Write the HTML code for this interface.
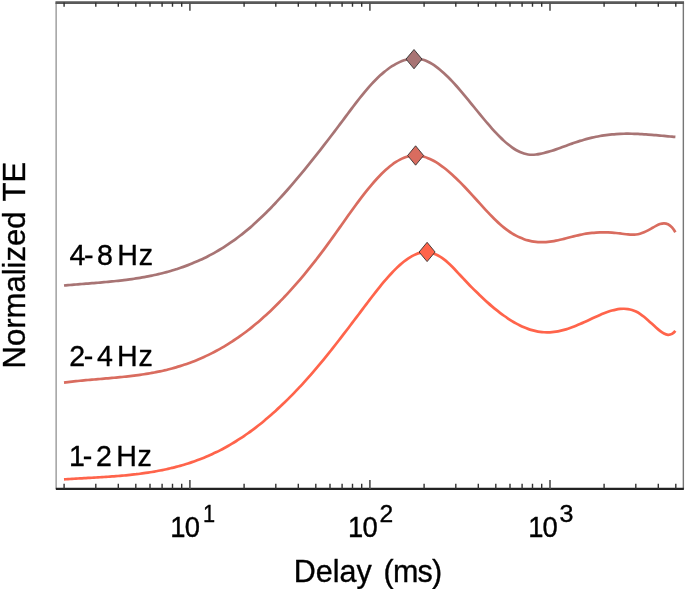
<!DOCTYPE html>
<html><head><meta charset="utf-8"><title>Normalized TE vs Delay</title>
<style>
html,body{margin:0;padding:0;background:#fff;}
svg{display:block;filter:blur(0.35px);}
text{font-family:"Liberation Sans",Arial,Helvetica,sans-serif;fill:#000;}
</style></head><body>
<svg width="685" height="589" viewBox="0 0 685 589">
<rect width="685" height="589" fill="#fff"/>
<!-- axes box -->
<path d="M56.15 2.6 V488.9" stroke="#a6a6a6" stroke-width="1.6" fill="none"/>
<path d="M683.35 2.6 V488.9" stroke="#767676" stroke-width="1.4" fill="none"/>
<path d="M55.45 2.6 H684.05" stroke="#595959" stroke-width="2.8" fill="none"/>
<path d="M55.85 488.9 H683.85" stroke="#222" stroke-width="2.1" fill="none"/>
<!-- ticks -->
<path d="M64.1 488.9 V483.8M95.8 488.9 V483.8M118.3 488.9 V483.8M135.8 488.9 V483.8M150.0 488.9 V483.8M162.1 488.9 V483.8M172.5 488.9 V483.8M181.7 488.9 V483.8M244.1 488.9 V483.8M275.8 488.9 V483.8M298.3 488.9 V483.8M315.8 488.9 V483.8M330.0 488.9 V483.8M342.1 488.9 V483.8M352.5 488.9 V483.8M361.7 488.9 V483.8M424.1 488.9 V483.8M455.8 488.9 V483.8M478.3 488.9 V483.8M495.8 488.9 V483.8M510.0 488.9 V483.8M522.1 488.9 V483.8M532.5 488.9 V483.8M541.7 488.9 V483.8M604.1 488.9 V483.8M635.8 488.9 V483.8M658.3 488.9 V483.8M675.8 488.9 V483.8" stroke="#303030" stroke-width="1.4" fill="none"/>
<path d="M189.9 488.9 V479.9M369.9 488.9 V479.9M550.0 488.9 V479.9" stroke="#505050" stroke-width="1.6" fill="none"/>
<path d="M64.1 2.6 V6.8M95.8 2.6 V6.8M118.3 2.6 V6.8M135.8 2.6 V6.8M150.0 2.6 V6.8M162.1 2.6 V6.8M172.5 2.6 V6.8M181.7 2.6 V6.8M244.1 2.6 V6.8M275.8 2.6 V6.8M298.3 2.6 V6.8M315.8 2.6 V6.8M330.0 2.6 V6.8M342.1 2.6 V6.8M352.5 2.6 V6.8M361.7 2.6 V6.8M424.1 2.6 V6.8M455.8 2.6 V6.8M478.3 2.6 V6.8M495.8 2.6 V6.8M510.0 2.6 V6.8M522.1 2.6 V6.8M532.5 2.6 V6.8M541.7 2.6 V6.8M604.1 2.6 V6.8M635.8 2.6 V6.8M658.3 2.6 V6.8M675.8 2.6 V6.8" stroke="#303030" stroke-width="1.4" fill="none"/>
<path d="M189.9 2.6 V10.7M369.9 2.6 V10.7M550.0 2.6 V10.7" stroke="#505050" stroke-width="1.6" fill="none"/>
<!-- curves -->
<path d="M64.00 285.51C65.33 285.39 66.67 285.27 68.00 285.16C69.33 285.04 70.67 284.93 72.00 284.82C73.33 284.71 74.67 284.60 76.00 284.49C77.33 284.38 78.67 284.28 80.00 284.17C81.33 284.06 82.67 283.96 84.00 283.85C85.33 283.75 86.67 283.64 88.00 283.54C89.33 283.43 90.67 283.33 92.00 283.22C93.33 283.11 94.67 283.00 96.00 282.89C97.33 282.78 98.67 282.67 100.00 282.56C101.33 282.44 102.67 282.33 104.00 282.21C105.33 282.09 106.67 281.96 108.00 281.84C109.33 281.71 110.67 281.58 112.00 281.45C113.33 281.31 114.67 281.18 116.00 281.03C117.33 280.89 118.67 280.74 120.00 280.59C121.33 280.44 122.67 280.28 124.00 280.11C125.33 279.95 126.67 279.78 128.00 279.60C129.33 279.43 130.67 279.24 132.00 279.05C133.33 278.86 134.67 278.66 136.00 278.46C137.33 278.25 138.67 278.04 140.00 277.82C141.33 277.59 142.67 277.36 144.00 277.12C145.33 276.88 146.67 276.64 148.00 276.38C149.33 276.12 150.67 275.85 152.00 275.57C153.33 275.29 154.67 275.01 156.00 274.71C157.33 274.41 158.67 274.10 160.00 273.78C161.33 273.45 162.67 273.12 164.00 272.78C165.33 272.43 166.67 272.07 168.00 271.70C169.33 271.33 170.67 270.95 172.00 270.56C173.33 270.16 174.67 269.75 176.00 269.33C177.33 268.90 178.67 268.47 180.00 268.02C181.33 267.56 182.67 267.10 184.00 266.62C185.33 266.14 186.67 265.64 188.00 265.13C189.33 264.62 190.67 264.09 192.00 263.54C193.33 263.00 194.67 262.44 196.00 261.86C197.33 261.29 198.67 260.69 200.00 260.08C201.33 259.47 202.67 258.84 204.00 258.19C205.33 257.54 206.67 256.88 208.00 256.19C209.33 255.51 210.67 254.80 212.00 254.08C213.33 253.36 214.67 252.61 216.00 251.85C217.33 251.09 218.67 250.30 220.00 249.50C221.33 248.70 222.67 247.87 224.00 247.03C225.33 246.18 226.67 245.31 228.00 244.42C229.33 243.53 230.67 242.62 232.00 241.69C233.33 240.75 234.67 239.80 236.00 238.82C237.33 237.84 238.67 236.83 240.00 235.80C241.33 234.78 242.67 233.72 244.00 232.65C245.33 231.57 246.67 230.47 248.00 229.35C249.33 228.22 250.67 227.07 252.00 225.90C253.33 224.73 254.67 223.53 256.00 222.31C257.33 221.10 258.67 219.86 260.00 218.59C261.33 217.33 262.67 216.05 264.00 214.75C265.33 213.44 266.67 212.12 268.00 210.78C269.33 209.43 270.67 208.07 272.00 206.69C273.33 205.30 274.67 203.90 276.00 202.48C277.33 201.06 278.67 199.63 280.00 198.17C281.33 196.72 282.67 195.25 284.00 193.76C285.33 192.27 286.67 190.77 288.00 189.25C289.33 187.73 290.67 186.20 292.00 184.65C293.33 183.10 294.67 181.54 296.00 179.97C297.33 178.39 298.67 176.80 300.00 175.20C301.33 173.60 302.67 171.98 304.00 170.35C305.33 168.73 306.67 167.09 308.00 165.44C309.33 163.79 310.67 162.13 312.00 160.46C313.33 158.79 314.67 157.11 316.00 155.42C317.33 153.73 318.67 152.03 320.00 150.32C321.33 148.61 322.67 146.90 324.00 145.17C325.33 143.45 326.67 141.72 328.00 139.98C329.33 138.24 330.67 136.50 332.00 134.74C333.33 132.99 334.67 131.23 336.00 129.47C337.33 127.71 338.67 125.94 340.00 124.17C341.33 122.40 342.67 120.62 344.00 118.84C345.33 117.06 346.67 115.27 348.00 113.49C349.33 111.71 350.67 109.93 352.00 108.16C353.33 106.40 354.67 104.64 356.00 102.90C357.33 101.17 358.67 99.45 360.00 97.77C361.33 96.08 362.67 94.42 364.00 92.80C365.33 91.18 366.67 89.60 368.00 88.06C369.33 86.52 370.67 85.03 372.00 83.60C373.33 82.16 374.67 80.77 376.00 79.44C377.33 78.11 378.67 76.83 380.00 75.61C381.33 74.39 382.67 73.22 384.00 72.12C385.33 71.01 386.67 69.97 388.00 68.98C389.33 68.00 390.67 67.08 392.00 66.22C393.33 65.36 394.67 64.57 396.00 63.84C397.33 63.12 398.67 62.46 400.00 61.87C401.33 61.28 402.67 60.76 404.00 60.31C405.33 59.87 406.67 59.49 408.00 59.20C409.33 58.91 410.67 58.70 412.00 58.58C413.33 58.45 414.67 58.42 416.00 58.49C417.33 58.56 418.67 58.72 420.00 58.99C421.33 59.26 422.67 59.63 424.00 60.09C425.33 60.56 426.67 61.12 428.00 61.76C429.33 62.41 430.67 63.14 432.00 63.95C433.33 64.77 434.67 65.66 436.00 66.62C437.33 67.58 438.67 68.62 440.00 69.72C441.33 70.81 442.67 71.98 444.00 73.20C445.33 74.42 446.67 75.69 448.00 77.02C449.33 78.34 450.67 79.72 452.00 81.13C453.33 82.55 454.67 84.01 456.00 85.50C457.33 86.99 458.67 88.52 460.00 90.07C461.33 91.62 462.67 93.20 464.00 94.80C465.33 96.40 466.67 98.01 468.00 99.64C469.33 101.27 470.67 102.91 472.00 104.55C473.33 106.20 474.67 107.84 476.00 109.49C477.33 111.13 478.67 112.77 480.00 114.40C481.33 116.03 482.67 117.65 484.00 119.25C485.33 120.85 486.67 122.43 488.00 123.99C489.33 125.54 490.67 127.07 492.00 128.57C493.33 130.06 494.67 131.52 496.00 132.94C497.33 134.36 498.67 135.74 500.00 137.06C501.33 138.39 502.67 139.66 504.00 140.88C505.33 142.09 506.67 143.24 508.00 144.33C509.33 145.42 510.67 146.44 512.00 147.38C513.33 148.32 514.67 149.19 516.00 149.97C517.33 150.75 518.67 151.44 520.00 152.05C521.33 152.65 522.67 153.16 524.00 153.57C525.33 153.97 526.67 154.28 528.00 154.47C529.33 154.67 530.67 154.75 532.00 154.75C533.33 154.75 534.67 154.66 536.00 154.50C537.33 154.34 538.67 154.12 540.00 153.86C541.33 153.60 542.67 153.29 544.00 152.96C545.33 152.63 546.67 152.27 548.00 151.89C549.33 151.51 550.67 151.11 552.00 150.68C553.33 150.26 554.67 149.82 556.00 149.36C557.33 148.91 558.67 148.44 560.00 147.97C561.33 147.49 562.67 147.01 564.00 146.52C565.33 146.04 566.67 145.55 568.00 145.06C569.33 144.58 570.67 144.10 572.00 143.62C573.33 143.15 574.67 142.68 576.00 142.23C577.33 141.77 578.67 141.33 580.00 140.91C581.33 140.49 582.67 140.09 584.00 139.70C585.33 139.32 586.67 138.95 588.00 138.60C589.33 138.25 590.67 137.92 592.00 137.61C593.33 137.30 594.67 137.01 596.00 136.74C597.33 136.46 598.67 136.21 600.00 135.97C601.33 135.74 602.67 135.52 604.00 135.32C605.33 135.13 606.67 134.95 608.00 134.79C609.33 134.63 610.67 134.49 612.00 134.37C613.33 134.25 614.67 134.14 616.00 134.06C617.33 133.97 618.67 133.90 620.00 133.85C621.33 133.80 622.67 133.76 624.00 133.74C625.33 133.72 626.67 133.71 628.00 133.71C629.33 133.72 630.67 133.73 632.00 133.76C633.33 133.79 634.67 133.83 636.00 133.88C637.33 133.93 638.67 133.99 640.00 134.06C641.33 134.13 642.67 134.21 644.00 134.29C645.33 134.38 646.67 134.47 648.00 134.57C649.33 134.66 650.67 134.77 652.00 134.88C653.33 134.98 654.67 135.10 656.00 135.21C657.33 135.33 658.67 135.44 660.00 135.56C661.33 135.68 662.67 135.81 664.00 135.93C665.33 136.05 666.67 136.17 668.00 136.29C669.33 136.41 670.67 136.53 672.00 136.65C673.13 136.75 674.27 136.84 675.40 136.94" stroke="#a87474" stroke-width="2.7" fill="none" stroke-linecap="butt"/>
<path d="M64.00 382.58C65.33 382.40 66.67 382.24 68.00 382.07C69.33 381.91 70.67 381.76 72.00 381.61C73.33 381.46 74.67 381.31 76.00 381.17C77.33 381.03 78.67 380.89 80.00 380.76C81.33 380.63 82.67 380.50 84.00 380.38C85.33 380.25 86.67 380.13 88.00 380.01C89.33 379.89 90.67 379.77 92.00 379.66C93.33 379.54 94.67 379.43 96.00 379.31C97.33 379.20 98.67 379.09 100.00 378.98C101.33 378.86 102.67 378.75 104.00 378.64C105.33 378.52 106.67 378.41 108.00 378.29C109.33 378.18 110.67 378.06 112.00 377.94C113.33 377.82 114.67 377.70 116.00 377.58C117.33 377.45 118.67 377.32 120.00 377.19C121.33 377.06 122.67 376.92 124.00 376.78C125.33 376.64 126.67 376.50 128.00 376.35C129.33 376.20 130.67 376.04 132.00 375.88C133.33 375.72 134.67 375.55 136.00 375.38C137.33 375.21 138.67 375.03 140.00 374.84C141.33 374.65 142.67 374.45 144.00 374.25C145.33 374.04 146.67 373.83 148.00 373.61C149.33 373.38 150.67 373.15 152.00 372.91C153.33 372.67 154.67 372.42 156.00 372.16C157.33 371.90 158.67 371.62 160.00 371.34C161.33 371.06 162.67 370.76 164.00 370.45C165.33 370.14 166.67 369.83 168.00 369.49C169.33 369.16 170.67 368.81 172.00 368.45C173.33 368.09 174.67 367.72 176.00 367.33C177.33 366.95 178.67 366.55 180.00 366.13C181.33 365.71 182.67 365.28 184.00 364.84C185.33 364.39 186.67 363.93 188.00 363.46C189.33 362.98 190.67 362.49 192.00 361.98C193.33 361.47 194.67 360.95 196.00 360.41C197.33 359.87 198.67 359.32 200.00 358.75C201.33 358.17 202.67 357.58 204.00 356.98C205.33 356.37 206.67 355.75 208.00 355.11C209.33 354.47 210.67 353.81 212.00 353.14C213.33 352.46 214.67 351.77 216.00 351.06C217.33 350.34 218.67 349.61 220.00 348.87C221.33 348.12 222.67 347.35 224.00 346.56C225.33 345.78 226.67 344.97 228.00 344.15C229.33 343.32 230.67 342.48 232.00 341.61C233.33 340.75 234.67 339.86 236.00 338.96C237.33 338.05 238.67 337.13 240.00 336.18C241.33 335.23 242.67 334.27 244.00 333.28C245.33 332.29 246.67 331.28 248.00 330.25C249.33 329.22 250.67 328.17 252.00 327.09C253.33 326.02 254.67 324.93 256.00 323.81C257.33 322.69 258.67 321.56 260.00 320.40C261.33 319.24 262.67 318.06 264.00 316.86C265.33 315.66 266.67 314.44 268.00 313.20C269.33 311.96 270.67 310.69 272.00 309.41C273.33 308.13 274.67 306.82 276.00 305.50C277.33 304.18 278.67 302.83 280.00 301.47C281.33 300.10 282.67 298.72 284.00 297.32C285.33 295.91 286.67 294.49 288.00 293.04C289.33 291.60 290.67 290.13 292.00 288.65C293.33 287.16 294.67 285.66 296.00 284.14C297.33 282.61 298.67 281.07 300.00 279.51C301.33 277.95 302.67 276.36 304.00 274.76C305.33 273.16 306.67 271.54 308.00 269.90C309.33 268.26 310.67 266.60 312.00 264.93C313.33 263.25 314.67 261.55 316.00 259.84C317.33 258.12 318.67 256.39 320.00 254.63C321.33 252.88 322.67 251.11 324.00 249.32C325.33 247.53 326.67 245.72 328.00 243.89C329.33 242.07 330.67 240.22 332.00 238.37C333.33 236.51 334.67 234.64 336.00 232.76C337.33 230.88 338.67 229.00 340.00 227.11C341.33 225.22 342.67 223.33 344.00 221.45C345.33 219.56 346.67 217.68 348.00 215.81C349.33 213.94 350.67 212.08 352.00 210.23C353.33 208.38 354.67 206.55 356.00 204.74C357.33 202.92 358.67 201.13 360.00 199.36C361.33 197.60 362.67 195.86 364.00 194.15C365.33 192.44 366.67 190.76 368.00 189.12C369.33 187.48 370.67 185.88 372.00 184.32C373.33 182.76 374.67 181.24 376.00 179.77C377.33 178.29 378.67 176.87 380.00 175.50C381.33 174.13 382.67 172.82 384.00 171.56C385.33 170.30 386.67 169.11 388.00 167.97C389.33 166.84 390.67 165.77 392.00 164.77C393.33 163.78 394.67 162.85 396.00 161.99C397.33 161.14 398.67 160.37 400.00 159.67C401.33 158.97 402.67 158.36 404.00 157.83C405.33 157.30 406.67 156.86 408.00 156.51C409.33 156.16 410.67 155.91 412.00 155.75C413.33 155.59 414.67 155.53 416.00 155.56C417.33 155.59 418.67 155.71 420.00 155.92C421.33 156.13 422.67 156.42 424.00 156.79C425.33 157.17 426.67 157.62 428.00 158.15C429.33 158.68 430.67 159.29 432.00 159.96C433.33 160.63 434.67 161.37 436.00 162.18C437.33 162.98 438.67 163.85 440.00 164.77C441.33 165.69 442.67 166.67 444.00 167.70C445.33 168.73 446.67 169.82 448.00 170.94C449.33 172.07 450.67 173.25 452.00 174.46C453.33 175.67 454.67 176.92 456.00 178.21C457.33 179.49 458.67 180.81 460.00 182.16C461.33 183.51 462.67 184.88 464.00 186.28C465.33 187.67 466.67 189.09 468.00 190.53C469.33 191.96 470.67 193.41 472.00 194.87C473.33 196.33 474.67 197.80 476.00 199.28C477.33 200.75 478.67 202.23 480.00 203.69C481.33 205.16 482.67 206.62 484.00 208.07C485.33 209.52 486.67 210.95 488.00 212.36C489.33 213.77 490.67 215.15 492.00 216.50C493.33 217.86 494.67 219.18 496.00 220.46C497.33 221.74 498.67 222.98 500.00 224.17C501.33 225.36 502.67 226.50 504.00 227.58C505.33 228.67 506.67 229.69 508.00 230.66C509.33 231.62 510.67 232.51 512.00 233.34C513.33 234.18 514.67 234.94 516.00 235.65C517.33 236.36 518.67 237.00 520.00 237.59C521.33 238.17 522.67 238.70 524.00 239.17C525.33 239.63 526.67 240.05 528.00 240.40C529.33 240.76 530.67 241.06 532.00 241.31C533.33 241.56 534.67 241.75 536.00 241.90C537.33 242.04 538.67 242.13 540.00 242.18C541.33 242.22 542.67 242.22 544.00 242.17C545.33 242.12 546.67 242.02 548.00 241.88C549.33 241.74 550.67 241.57 552.00 241.36C553.33 241.15 554.67 240.91 556.00 240.65C557.33 240.38 558.67 240.10 560.00 239.79C561.33 239.48 562.67 239.16 564.00 238.83C565.33 238.50 566.67 238.15 568.00 237.81C569.33 237.46 570.67 237.12 572.00 236.77C573.33 236.43 574.67 236.09 576.00 235.77C577.33 235.44 578.67 235.13 580.00 234.84C581.33 234.54 582.67 234.27 584.00 234.02C585.33 233.78 586.67 233.56 588.00 233.37C589.33 233.18 590.67 233.02 592.00 232.88C593.33 232.75 594.67 232.64 596.00 232.55C597.33 232.47 598.67 232.41 600.00 232.38C601.33 232.34 602.67 232.33 604.00 232.34C605.33 232.35 606.67 232.38 608.00 232.44C609.33 232.49 610.67 232.57 612.00 232.66C613.33 232.76 614.67 232.87 616.00 233.00C617.33 233.14 618.67 233.29 620.00 233.45C621.33 233.62 622.67 233.80 624.00 233.98C625.33 234.15 626.67 234.31 628.00 234.43C629.33 234.55 630.67 234.64 632.00 234.65C633.33 234.67 634.67 234.62 636.00 234.47C637.33 234.33 638.67 234.09 640.00 233.72C641.33 233.36 642.67 232.87 644.00 232.30C645.33 231.73 646.67 231.07 648.00 230.36C649.33 229.65 650.67 228.89 652.00 228.12C653.33 227.34 654.67 226.55 656.00 225.85C657.33 225.14 658.67 224.52 660.00 224.07C661.33 223.62 662.67 223.35 664.00 223.35C665.33 223.36 666.67 223.63 668.00 224.28C669.33 224.92 670.67 225.94 672.00 227.42C673.13 228.67 674.27 230.26 675.40 232.25" stroke="#d96c5f" stroke-width="2.7" fill="none" stroke-linecap="butt"/>
<path d="M64.00 479.39C65.33 479.30 66.67 479.21 68.00 479.13C69.33 479.04 70.67 478.96 72.00 478.87C73.33 478.79 74.67 478.71 76.00 478.63C77.33 478.56 78.67 478.48 80.00 478.40C81.33 478.33 82.67 478.25 84.00 478.18C85.33 478.10 86.67 478.03 88.00 477.95C89.33 477.88 90.67 477.80 92.00 477.73C93.33 477.65 94.67 477.58 96.00 477.50C97.33 477.42 98.67 477.34 100.00 477.26C101.33 477.18 102.67 477.10 104.00 477.01C105.33 476.93 106.67 476.84 108.00 476.75C109.33 476.66 110.67 476.56 112.00 476.47C113.33 476.37 114.67 476.27 116.00 476.16C117.33 476.06 118.67 475.95 120.00 475.84C121.33 475.73 122.67 475.61 124.00 475.49C125.33 475.36 126.67 475.23 128.00 475.10C129.33 474.97 130.67 474.83 132.00 474.68C133.33 474.54 134.67 474.39 136.00 474.23C137.33 474.07 138.67 473.91 140.00 473.73C141.33 473.56 142.67 473.38 144.00 473.19C145.33 473.01 146.67 472.81 148.00 472.61C149.33 472.40 150.67 472.19 152.00 471.97C153.33 471.75 154.67 471.52 156.00 471.28C157.33 471.04 158.67 470.80 160.00 470.54C161.33 470.28 162.67 470.01 164.00 469.73C165.33 469.45 166.67 469.16 168.00 468.86C169.33 468.56 170.67 468.25 172.00 467.93C173.33 467.60 174.67 467.27 176.00 466.92C177.33 466.57 178.67 466.21 180.00 465.84C181.33 465.47 182.67 465.09 184.00 464.69C185.33 464.29 186.67 463.88 188.00 463.45C189.33 463.03 190.67 462.59 192.00 462.14C193.33 461.69 194.67 461.22 196.00 460.74C197.33 460.25 198.67 459.76 200.00 459.24C201.33 458.73 202.67 458.20 204.00 457.66C205.33 457.12 206.67 456.56 208.00 455.98C209.33 455.40 210.67 454.81 212.00 454.20C213.33 453.59 214.67 452.97 216.00 452.32C217.33 451.68 218.67 451.02 220.00 450.33C221.33 449.65 222.67 448.96 224.00 448.24C225.33 447.52 226.67 446.79 228.00 446.03C229.33 445.28 230.67 444.50 232.00 443.71C233.33 442.92 234.67 442.10 236.00 441.27C237.33 440.44 238.67 439.58 240.00 438.71C241.33 437.84 242.67 436.95 244.00 436.04C245.33 435.13 246.67 434.20 248.00 433.25C249.33 432.30 250.67 431.33 252.00 430.34C253.33 429.35 254.67 428.34 256.00 427.32C257.33 426.29 258.67 425.25 260.00 424.18C261.33 423.12 262.67 422.03 264.00 420.93C265.33 419.83 266.67 418.71 268.00 417.57C269.33 416.43 270.67 415.27 272.00 414.10C273.33 412.92 274.67 411.72 276.00 410.51C277.33 409.30 278.67 408.06 280.00 406.81C281.33 405.56 282.67 404.29 284.00 403.01C285.33 401.72 286.67 400.41 288.00 399.09C289.33 397.77 290.67 396.43 292.00 395.07C293.33 393.71 294.67 392.33 296.00 390.93C297.33 389.54 298.67 388.13 300.00 386.70C301.33 385.26 302.67 383.82 304.00 382.35C305.33 380.88 306.67 379.40 308.00 377.90C309.33 376.40 310.67 374.88 312.00 373.34C313.33 371.81 314.67 370.25 316.00 368.68C317.33 367.11 318.67 365.52 320.00 363.92C321.33 362.31 322.67 360.70 324.00 359.06C325.33 357.43 326.67 355.78 328.00 354.12C329.33 352.46 330.67 350.78 332.00 349.10C333.33 347.42 334.67 345.72 336.00 344.01C337.33 342.31 338.67 340.59 340.00 338.87C341.33 337.15 342.67 335.42 344.00 333.68C345.33 331.94 346.67 330.20 348.00 328.45C349.33 326.70 350.67 324.94 352.00 323.18C353.33 321.42 354.67 319.66 356.00 317.90C357.33 316.14 358.67 314.37 360.00 312.60C361.33 310.84 362.67 309.07 364.00 307.30C365.33 305.54 366.67 303.77 368.00 302.01C369.33 300.26 370.67 298.51 372.00 296.77C373.33 295.04 374.67 293.32 376.00 291.62C377.33 289.92 378.67 288.24 380.00 286.60C381.33 284.95 382.67 283.33 384.00 281.74C385.33 280.16 386.67 278.61 388.00 277.10C389.33 275.60 390.67 274.13 392.00 272.72C393.33 271.30 394.67 269.93 396.00 268.62C397.33 267.31 398.67 266.06 400.00 264.87C401.33 263.67 402.67 262.55 404.00 261.49C405.33 260.43 406.67 259.45 408.00 258.54C409.33 257.64 410.67 256.82 412.00 256.09C413.33 255.36 414.67 254.71 416.00 254.17C417.33 253.63 418.67 253.19 420.00 252.86C421.33 252.53 422.67 252.30 424.00 252.20C425.33 252.09 426.67 252.11 428.00 252.25C429.33 252.39 430.67 252.65 432.00 253.03C433.33 253.41 434.67 253.90 436.00 254.51C437.33 255.12 438.67 255.83 440.00 256.65C441.33 257.46 442.67 258.38 444.00 259.40C445.33 260.41 446.67 261.53 448.00 262.72C449.33 263.92 450.67 265.21 452.00 266.55C453.33 267.90 454.67 269.30 456.00 270.72C457.33 272.14 458.67 273.58 460.00 275.01C461.33 276.45 462.67 277.87 464.00 279.28C465.33 280.69 466.67 282.09 468.00 283.47C469.33 284.86 470.67 286.23 472.00 287.58C473.33 288.93 474.67 290.27 476.00 291.58C477.33 292.90 478.67 294.20 480.00 295.48C481.33 296.75 482.67 298.01 484.00 299.25C485.33 300.48 486.67 301.69 488.00 302.88C489.33 304.06 490.67 305.22 492.00 306.36C493.33 307.49 494.67 308.60 496.00 309.67C497.33 310.75 498.67 311.80 500.00 312.82C501.33 313.83 502.67 314.82 504.00 315.77C505.33 316.72 506.67 317.64 508.00 318.53C509.33 319.41 510.67 320.26 512.00 321.07C513.33 321.88 514.67 322.65 516.00 323.39C517.33 324.12 518.67 324.81 520.00 325.47C521.33 326.12 522.67 326.73 524.00 327.29C525.33 327.86 526.67 328.38 528.00 328.86C529.33 329.34 530.67 329.77 532.00 330.15C533.33 330.53 534.67 330.87 536.00 331.15C537.33 331.43 538.67 331.67 540.00 331.85C541.33 332.03 542.67 332.16 544.00 332.24C545.33 332.31 546.67 332.34 548.00 332.31C549.33 332.29 550.67 332.21 552.00 332.09C553.33 331.97 554.67 331.80 556.00 331.59C557.33 331.38 558.67 331.13 560.00 330.85C561.33 330.56 562.67 330.23 564.00 329.87C565.33 329.51 566.67 329.11 568.00 328.68C569.33 328.25 570.67 327.79 572.00 327.31C573.33 326.82 574.67 326.31 576.00 325.77C577.33 325.23 578.67 324.67 580.00 324.09C581.33 323.51 582.67 322.91 584.00 322.29C585.33 321.68 586.67 321.06 588.00 320.43C589.33 319.80 590.67 319.17 592.00 318.54C593.33 317.91 594.67 317.29 596.00 316.68C597.33 316.07 598.67 315.48 600.00 314.90C601.33 314.33 602.67 313.78 604.00 313.25C605.33 312.73 606.67 312.24 608.00 311.78C609.33 311.33 610.67 310.91 612.00 310.55C613.33 310.18 614.67 309.85 616.00 309.59C617.33 309.32 618.67 309.11 620.00 308.96C621.33 308.82 622.67 308.75 624.00 308.76C625.33 308.77 626.67 308.86 628.00 309.05C629.33 309.24 630.67 309.53 632.00 309.93C633.33 310.33 634.67 310.84 636.00 311.48C637.33 312.12 638.67 312.89 640.00 313.78C641.33 314.68 642.67 315.68 644.00 316.76C645.33 317.85 646.67 319.00 648.00 320.20C649.33 321.39 650.67 322.62 652.00 323.85C653.33 325.08 654.67 326.31 656.00 327.50C657.33 328.69 658.67 329.85 660.00 330.90C661.33 331.95 662.67 332.88 664.00 333.57C665.33 334.26 666.67 334.71 668.00 334.79C669.33 334.88 670.67 334.61 672.00 333.85C673.13 333.21 674.27 332.21 675.40 330.80" stroke="#ff644b" stroke-width="2.7" fill="none" stroke-linecap="butt"/>
<!-- peak markers -->
<path d="M414.0 49.5 L422.0 59.1 L414.0 68.8 L406.0 59.1Z" fill="#a87474" stroke="#2b2b2b" stroke-width="0.85"/>
<path d="M415.6 145.8 L423.6 155.5 L415.6 165.2 L407.6 155.5Z" fill="#d96c5f" stroke="#2b2b2b" stroke-width="0.85"/>
<path d="M427.1 242.3 L435.1 252.0 L427.1 261.6 L419.1 252.0Z" fill="#ff644b" stroke="#2b2b2b" stroke-width="0.85"/>
<!-- band labels -->
<text transform="translate(0 265.2) scale(1 1.045)" x="69.6 83.9 96.9 112.0 117.2 138.8" y="0" font-size="28.6" stroke="#000" stroke-width="0.35" stroke-linejoin="round">4-8 Hz</text>
<text transform="translate(0 366.2) scale(1 1.045)" x="69.3 83.8 97.0 112.0 117.0 138.6" y="0" font-size="28.6" stroke="#000" stroke-width="0.35" stroke-linejoin="round">2-4 Hz</text>
<text transform="translate(0 465.8) scale(1 1.045)" x="69.0 82.7 96.0 111.0 116.3 137.6" y="0" font-size="28.6" stroke="#000" stroke-width="0.35" stroke-linejoin="round">1-2 Hz</text>
<!-- tick labels -->
<text transform="translate(170.3 536.6) scale(1 1.085)" x="0 14.4" y="0" font-size="27.4" stroke="#000" stroke-width="0.35" stroke-linejoin="round">10</text><text transform="translate(203.0 521.7) scale(1.0 1.085)" font-size="21.8" stroke="#000" stroke-width="0.35" stroke-linejoin="round">1</text>
<text transform="translate(348.1 536.6) scale(1 1.085)" x="0 14.4" y="0" font-size="27.4" stroke="#000" stroke-width="0.35" stroke-linejoin="round">10</text><text transform="translate(379.5 521.7) scale(1.13 1.085)" font-size="21.8" stroke="#000" stroke-width="0.35" stroke-linejoin="round">2</text>
<text transform="translate(528.2 536.6) scale(1 1.085)" x="0 14.4" y="0" font-size="27.4" stroke="#000" stroke-width="0.35" stroke-linejoin="round">10</text><text transform="translate(559.6 521.7) scale(1.15 1.085)" font-size="21.8" stroke="#000" stroke-width="0.35" stroke-linejoin="round">3</text>
<!-- axis labels -->
<text transform="translate(0 581.5) scale(1 1.02)" y="0" font-size="30.5" stroke="#000" stroke-width="0.35" stroke-linejoin="round"><tspan x="293.8">Delay </tspan><tspan x="383.6" textLength="58.6" lengthAdjust="spacing">(ms)</tspan></text>
<text transform="translate(25.3 368.4) rotate(-90) scale(1.008 1.045)" font-size="30.8" stroke="#000" stroke-width="0.35" stroke-linejoin="round">Normalized <tspan dx="1.3">TE</tspan></text>
</svg>
</body></html>
